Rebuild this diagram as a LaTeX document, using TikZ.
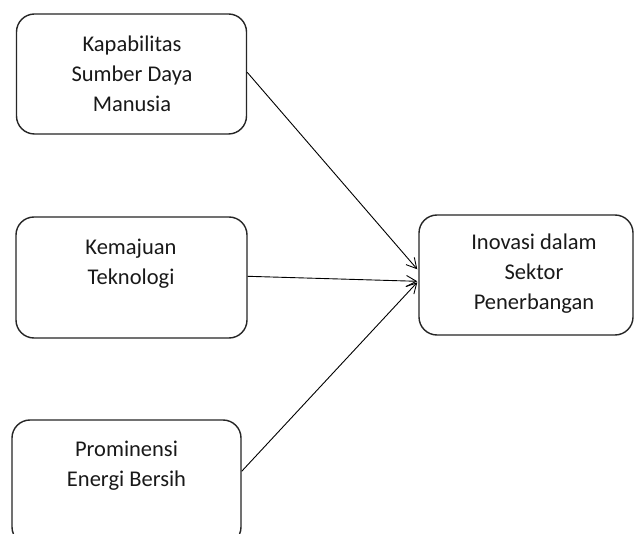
\documentclass[tikz,border=0pt]{standalone}
\usepackage{fontspec}
\setmainfont{Carlito}
\usetikzlibrary{arrows.meta,calc}
\begin{document}
\begin{tikzpicture}[x=1pt,y=-1pt,
  box/.style={draw=black!85,line width=1.4pt,rounded corners=18pt,inner sep=0pt},
  lbl/.style={align=center,font=\fontsize{22.5}{30}\selectfont,inner sep=0pt,text=black!90},
  conn/.style={draw=black,line width=0.9pt,-{Straight Barb[length=10pt,width=11pt,line width=0.9pt]}}]
\useasboundingbox (0,0) rectangle (634,534);
\clip (0,0) rectangle (634,534);
\fill[white] (0,0) rectangle (634,534);
\node[box,minimum width=230pt,minimum height=120pt] (b1) at (131.5,74) {};
\node[box,minimum width=231pt,minimum height=121pt] (b2) at (131.5,277.5) {};
\node[box,minimum width=229pt,minimum height=125pt] (b3) at (126.5,482.5) {};
\node[box,minimum width=214pt,minimum height=120pt] (b4) at (526,275) {};
\node[lbl] (t1) at (132,74) {Kapabilitas\\Sumber Daya\\Manusia};
\node[lbl] (t2) at (131,263.5) {Kemajuan\\Teknologi};
\node[lbl] (t3) at (126.5,466) {Prominensi\\Energi Bersih};
\node[lbl] (t4) at (534,274) {Inovasi dalam\\Sektor\\Penerbangan};
\coordinate (e1) at ($(b4.north west)+(-1,55)$);
\coordinate (e2) at ($(b4.north west)+(-1,67)$);
\coordinate (e3) at ($(b4.north west)+(-1,68)$);
\draw[conn] ($(b1.north east)+(0,59)$) -- (e1);
\draw[conn] ($(b2.north east)+(0,60)$) -- (e2);
\draw[conn] ($(b3.north east)+(0,52)$) -- (e3);
\end{tikzpicture}
\end{document}
